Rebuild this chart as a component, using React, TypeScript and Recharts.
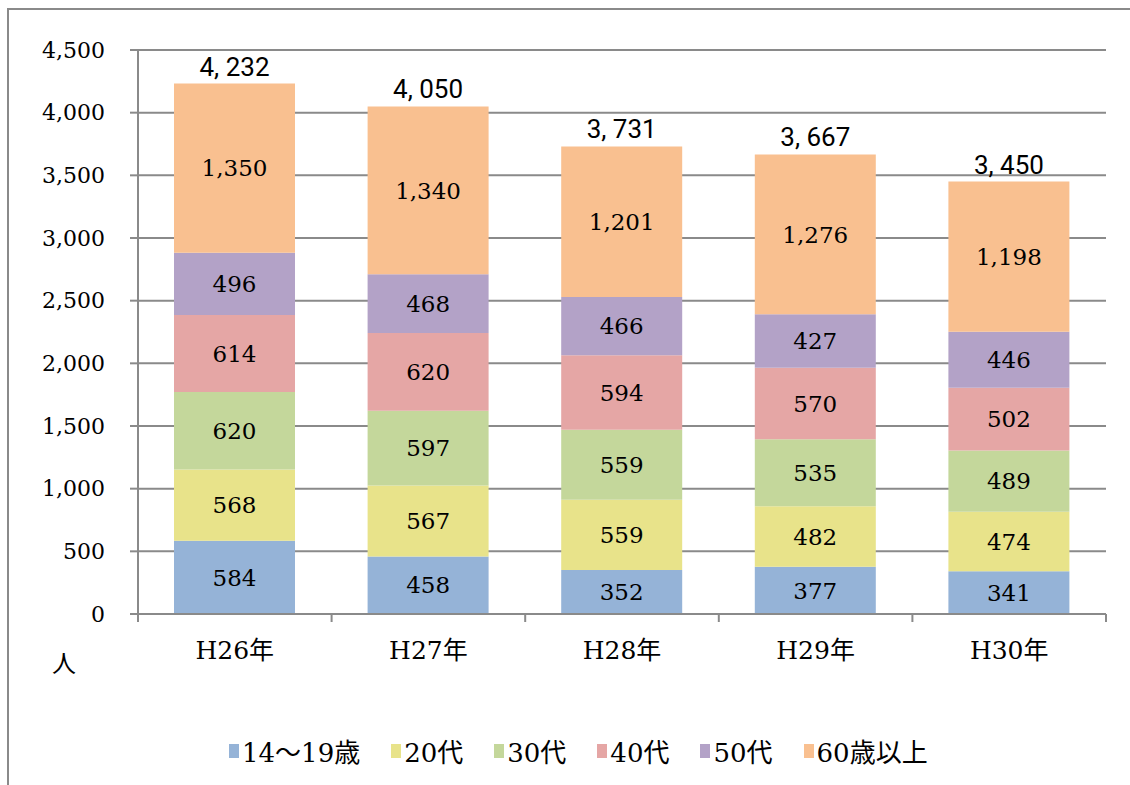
import { BarChart, Bar, XAxis, YAxis, CartesianGrid, LabelList } from 'recharts'

const categories = ['H26年', 'H27年', 'H28年', 'H29年', 'H30年']
const seriesNames = ['14～19歳', '20代', '30代', '40代', '50代', '60歳以上']
const teens = [584, 458, 352, 377, 341]
const twenties = [568, 567, 559, 482, 474]
const thirties = [620, 597, 559, 535, 489]
const forties = [614, 620, 594, 570, 502]
const fifties = [496, 468, 466, 427, 446]
const sixtyPlus = [1350, 1340, 1201, 1276, 1198]
const yTicks = [0, 500, 1000, 1500, 2000, 2500, 3000, 3500, 4000, 4500]

const seriesValues = [teens, twenties, thirties, forties, fifties, sixtyPlus]
const seriesKeys = ['s0', 's1', 's2', 's3', 's4', 's5']
const colors = ['#95B3D7', '#E8E38A', '#C4D79B', '#E5A6A5', '#B3A2C7', '#F9C090']

const GRID = '#8a8a8a'
const SERIF = '"DejaVu Serif", "Liberation Serif", "Noto Sans CJK JP", serif'
const NARROW = '"Liberation Sans Narrow", Roboto, "Noto Sans CJK JP", sans-serif'

const W = 1130
const H = 785
const MARGIN = { top: 50, right: 24, left: 0, bottom: 111 }
const Y_W = 138
const HALF_BAND = (W - MARGIN.right - Y_W) / categories.length / 2

const data = categories.map((name, i) => {
  const row: Record<string, any> = { name }
  let total = 0
  seriesValues.forEach((vals, k) => {
    row[seriesKeys[k]] = vals[i]
    total += vals[i]
  })
  row.total = total
  return row
})

const fmt = (v: any) => Number(v).toLocaleString('en-US')
const fmtTotal = (v: any) => Number(v).toLocaleString('en-US').replace(',', ', ')

function CategoryTick(props: any) {
  const { x, y, payload, index } = props
  return (
    <g>
      <line x1={x - HALF_BAND} y1={y} x2={x - HALF_BAND} y2={y + 8} stroke={GRID} strokeWidth={2} />
      {index === categories.length - 1 && (
        <line x1={x + HALF_BAND} y1={y} x2={x + HALF_BAND} y2={y + 8} stroke={GRID} strokeWidth={2} />
      )}
      <text x={x} y={y + 36} textAnchor="middle" dominantBaseline="central" fontFamily={SERIF} fontSize={25} fill="#000">
        {payload.value}
      </text>
    </g>
  )
}

export default function App() {
  return (
    <div style={{ position: 'fixed', inset: 0, overflow: 'hidden', background: '#fff' }}>
      <div
        style={{
          position: 'absolute',
          left: 7,
          top: 8,
          width: W + 20,
          height: H + 20,
          border: `2px solid ${GRID}`,
        }}
      />
      <div style={{ position: 'absolute', left: 0, top: 0 }}>
        <BarChart width={W} height={H} data={data} margin={MARGIN}>
          <CartesianGrid vertical={false} stroke={GRID} strokeWidth={2} />
          <XAxis
            dataKey="name"
            height={60}
            tickLine={false}
            tickSize={0}
            tickMargin={0}
            axisLine={{ stroke: GRID, strokeWidth: 2 }}
            tick={<CategoryTick />}
            interval={0}
          />
          <YAxis
            width={Y_W}
            domain={[0, 4500]}
            ticks={yTicks}
            interval={0}
            tickSize={8}
            tickMargin={25}
            tickFormatter={fmt}
            axisLine={{ stroke: GRID, strokeWidth: 2 }}
            tickLine={{ stroke: GRID, strokeWidth: 2 }}
            tick={{ fill: '#000', fontFamily: SERIF, fontSize: 22 }}
          />
          {seriesKeys.map((key, k) => (
            <Bar
              key={key}
              dataKey={key}
              name={seriesNames[k]}
              stackId="a"
              fill={colors[k]}
              barSize={121}
              isAnimationActive={false}
            >
              <LabelList
                dataKey={key}
                position="center"
                formatter={fmt}
                fill="#000"
                fontFamily={SERIF}
                fontSize={23}
              />
              {k === seriesKeys.length - 1 && (
                <LabelList
                  dataKey="total"
                  position="top"
                  offset={8}
                  formatter={fmtTotal}
                  fill="#000"
                  fontFamily={NARROW}
                  fontSize={26}
                />
              )}
            </Bar>
          ))}
        </BarChart>
      </div>
      <div
        style={{
          position: 'absolute',
          left: 52,
          top: 644,
          fontFamily: SERIF,
          fontSize: 24,
          color: '#000',
        }}
      >
        人
      </div>
      <div
        style={{
          position: 'absolute',
          left: 229,
          top: 732,
          display: 'flex',
          gap: 31,
          alignItems: 'center',
          fontFamily: SERIF,
          fontSize: 26,
          color: '#000',
        }}
      >
        {seriesNames.map((n, k) => (
          <div key={n} style={{ display: 'flex', alignItems: 'center' }}>
            <span style={{ width: 10, height: 14, background: colors[k], marginRight: 3, display: 'inline-block' }} />
            <span>{n}</span>
          </div>
        ))}
      </div>
    </div>
  )
}
